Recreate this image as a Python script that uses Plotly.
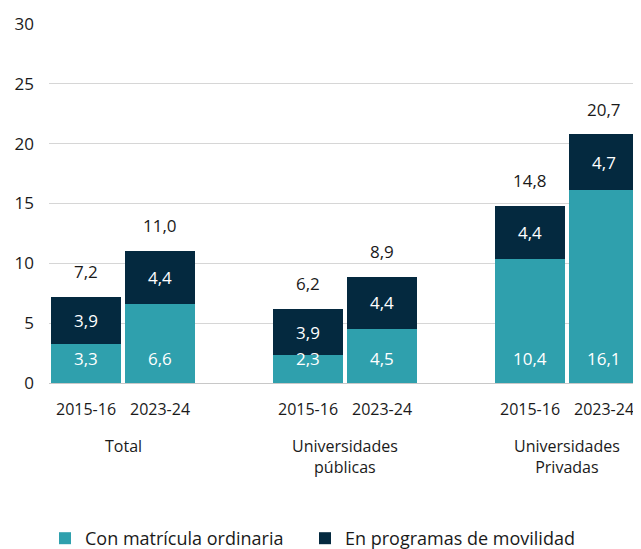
import plotly.graph_objects as go

groups = ["Total", "Universidades<br>públicas", "Universidades<br>Privadas"]
years = ["2015-16", "2023-24"]
ordinaria = [3.3, 6.6, 2.3, 4.5, 10.4, 16.1]
movilidad = [3.9, 4.4, 3.9, 4.4, 4.4, 4.7]
totales = [7.2, 11.0, 6.2, 8.9, 14.8, 20.7]

# slot positions: two bars per group, one empty slot between groups
xpos = []
for g in range(len(groups)):
    for j in range(len(years)):
        xpos.append(g * 3 + j)
tick_text = years * len(groups)

teal = "#2FA0AD"
navy = "#04293F"
font_family = "Open Sans, Lato, sans-serif"
txt_color = "#1a1a1a"

fig = go.Figure()
fig.add_trace(go.Bar(
    x=xpos, y=ordinaria, name="Con matrícula ordinaria",
    marker=dict(color=teal, line=dict(width=0)), legend="legend",
))
fig.add_trace(go.Bar(
    x=xpos, y=movilidad, name="En programas de movilidad",
    marker=dict(color=navy, line=dict(width=0)), legend="legend2",
    text=movilidad, texttemplate="%{y:.1f}", textposition="inside",
    insidetextanchor="middle", textangle=0,
    textfont=dict(color="white", size=17, family=font_family),
))

# labels of the teal segments, near the bottom of each bar
for x, v in zip(xpos, ordinaria):
    fig.add_annotation(x=x, y=0, xref="x", yref="y", text=f"{v:.1f}".replace(".", ","),
                       showarrow=False, yanchor="bottom", yshift=11,
                       font=dict(size=17, color="white", family=font_family))

for x, t in zip(xpos, totales):
    fig.add_annotation(x=x, y=t, xref="x", yref="y", text=f"{t:.1f}".replace(".", ","),
                       showarrow=False, yanchor="bottom", yshift=12,
                       font=dict(size=17, color=txt_color, family=font_family))

for g, name in enumerate(groups):
    fig.add_annotation(x=g * 3 + 0.5, y=0, xref="x", yref="paper", text=name,
                       showarrow=False, yanchor="top", yshift=-50,
                       font=dict(size=16, color=txt_color, family=font_family))

leg_common = dict(orientation="h", xref="container", yref="container",
                  xanchor="left", y=0.0, yanchor="bottom",
                  font=dict(size=18, color=txt_color, family=font_family),
                  itemwidth=30)

fig.update_layout(
    width=641, height=549,
    barmode="stack", bargap=0.055,
    separators=",.",
    plot_bgcolor="white", paper_bgcolor="white",
    margin=dict(l=41, r=8, t=16, b=174, autoexpand=False),
    font=dict(family=font_family, size=16, color=txt_color),
    legend=dict(x=37 / 641, **leg_common),
    legend2=dict(x=297 / 641, **leg_common),
    showlegend=True,
)
fig.update_xaxes(
    tickmode="array", tickvals=xpos, ticktext=tick_text,
    range=[-0.5, 7.5], showgrid=False, zeroline=False, showline=False,
    ticks="", ticklabelstandoff=15, automargin=False,
    tickfont=dict(size=16, color=txt_color, family=font_family),
)
fig.update_yaxes(
    range=[0, 30], dtick=5, showgrid=True, gridcolor="#d6d6d6", gridwidth=1.3,
    zeroline=True, zerolinecolor="#c8c8c8", zerolinewidth=1.3, showline=False,
    ticks="", ticklabelstandoff=14, automargin=False,
    tickfont=dict(size=17, color=txt_color, family=font_family),
)

fig.write_html("out.html")
